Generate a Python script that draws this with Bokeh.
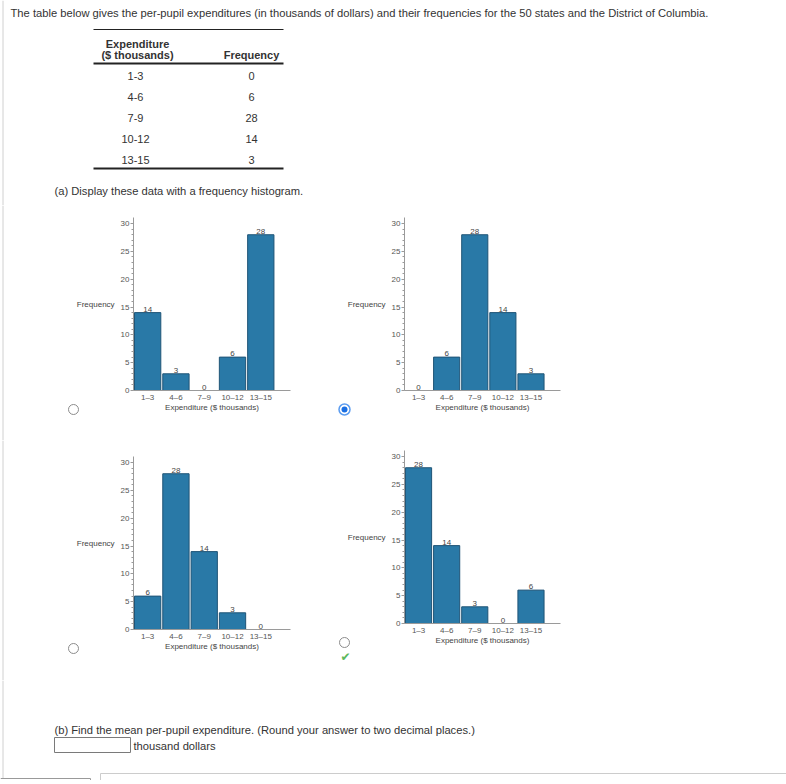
from bokeh.plotting import figure
from bokeh.models import Range1d, FixedTicker, ColumnDataSource
from bokeh.layouts import column, row
from bokeh.embed import file_html
from bokeh.resources import INLINE
from bokeh.core.properties import value

# ---------------- data ----------------
intro = ("The table below gives the per-pupil expenditures (in thousands of dollars) "
         "and their frequencies for the 50 states and the District of Columbia.")
part_a = "(a) Display these data with a frequency histogram."
part_b = "(b) Find the mean per-pupil expenditure. (Round your answer to two decimal places.)"
unit_text = "thousand dollars"

head_left = ["Expenditure", "($ thousands)"]
head_right = "Frequency"
categories = ["1-3", "4-6", "7-9", "10-12", "13-15"]
frequencies = [0, 6, 28, 14, 3]

hist_labels = ["1\u20133", "4\u20136", "7\u20139", "10\u201312", "13\u201315"]
choice_a = [14, 3, 0, 6, 28]
choice_b = [0, 6, 28, 14, 3]
choice_c = [6, 28, 14, 3, 0]
choice_d = [28, 14, 3, 0, 6]
y_ticks = [0, 5, 10, 15, 20, 25, 30]
y_label = "Frequency"
x_label = "Expenditure ($ thousands)"

# ---------------- style ----------------
FONT = "Liberation Sans"
TXT = "#333333"
BAR = "#2979a7"
EDGE = "#1f5476"
AX = "#9a9a9a"
EDGE_LINE = "#d0d0d0"
XMAX = 5.55
YMAX = 31.1
PAGE_W = 786


def blank(width, height, x0, y0):
    p = figure(width=width, height=height, output_backend="svg", toolbar_location=None,
               x_range=Range1d(x0, x0 + width), y_range=Range1d(y0 + height, y0),
               min_border=0)
    p.axis.visible = False
    p.grid.visible = False
    p.outline_line_color = None
    return p


# ---------------- header ----------------
hdr = blank(PAGE_W, 205, 0, 0)
hdr.segment(x0=[2.5], y0=[0], x1=[2.5], y1=[205], line_color=EDGE_LINE, line_width=1)
hdr.text(x=[10], y=[12], text=[intro], text_font=value(FONT), text_font_size="11.2px",
         text_color=TXT, text_align="left", text_baseline="middle")
hdr.segment(x0=[93], y0=[29], x1=[283], y1=[29], line_color="#222222", line_width=1)
hdr.segment(x0=[93, 93], y0=[63, 168], x1=[283, 283], y1=[63, 168], line_color="#222222", line_width=2)
hdr.text(x=[137, 137], y=[43, 54], text=head_left, text_font=value(FONT), text_font_size="11px",
         text_font_style="bold", text_color=TXT, text_align="center", text_baseline="middle")
hdr.text(x=[251], y=[54], text=[head_right], text_font=value(FONT), text_font_size="11px",
         text_font_style="bold", text_color=TXT, text_align="center", text_baseline="middle")
row_y = [75 + 21 * i for i in range(len(categories))]
hdr.text(x=[135] * len(categories), y=row_y, text=categories, text_font=value(FONT),
         text_font_size="11px", text_color=TXT, text_align="center", text_baseline="middle")
hdr.text(x=[251] * len(frequencies), y=row_y, text=[str(f) for f in frequencies],
         text_font=value(FONT), text_font_size="11px", text_color=TXT,
         text_align="center", text_baseline="middle")
hdr.text(x=[54], y=[190], text=[part_a], text_font=value(FONT), text_font_size="11.2px",
         text_color=TXT, text_align="left", text_baseline="middle")


# ---------------- histograms ----------------
def make_hist(vals, width, height, left, fl, fw, ftop, fbot, radio_sx,
              selected=False, check=False):
    """left: figure's page x; fl: pixel x of the value axis inside the figure;
    fw: pixel width of XMAX; ftop/fbot: pixel y of YMAX / 0 inside the figure."""
    ppx = fw / XMAX
    ppy = (fbot - ftop) / YMAX
    x_lo, x_hi = -fl / ppx, (width - fl) / ppx
    y_lo, y_hi = -(height - fbot) / ppy, fbot / ppy
    p = figure(width=width, height=height, output_backend="svg", toolbar_location=None,
               x_range=Range1d(x_lo, x_hi), y_range=Range1d(y_lo, y_hi),
               min_border=0)
    p.grid.visible = False
    p.outline_line_color = None

    if left == 0:
        p.line(x=[x_lo + 2.5 / ppx, x_lo + 2.5 / ppx], y=[y_lo, y_hi],
               line_color=EDGE_LINE, line_width=1)

    src = ColumnDataSource(dict(x=[i + 0.5 for i in range(len(vals))], top=vals,
                                lab=[str(v) for v in vals]))
    p.vbar(x="x", top="top", bottom=0, width=0.93, source=src,
           fill_color=BAR, line_color=EDGE, line_width=1)
    p.text(x="x", y="top", text="lab", source=src, text_align="center",
           text_baseline="bottom", y_offset=-1, text_font=value(FONT),
           text_font_size="8px", text_color="#444444")

    ya = p.yaxis[0]
    ya.fixed_location = 0
    ya.bounds = (0, YMAX)
    ya.ticker = FixedTicker(ticks=y_ticks, minor_ticks=list(range(0, 31)))
    ya.axis_line_color = AX
    ya.major_tick_line_color = AX
    ya.minor_tick_line_color = AX
    ya.major_tick_out = 3
    ya.major_tick_in = 0
    ya.minor_tick_out = 2
    ya.minor_tick_in = 0
    ya.major_label_text_font = FONT
    ya.major_label_text_font_size = "8px"
    ya.major_label_text_color = "#555555"
    ya.major_label_standoff = 1
    ya.axis_label = y_label
    ya.axis_label_orientation = "horizontal"
    ya.axis_label_text_font = FONT
    ya.axis_label_text_font_style = "normal"
    ya.axis_label_text_font_size = "8px"
    ya.axis_label_text_color = "#444444"
    ya.axis_label_standoff = 3

    xa = p.xaxis[0]
    xa.fixed_location = 0
    xa.bounds = (0, XMAX)
    xa.ticker = FixedTicker(ticks=[i + 0.5 for i in range(len(hist_labels))], minor_ticks=[])
    xa.major_label_overrides = {i + 0.5: lab for i, lab in enumerate(hist_labels)}
    xa.axis_line_color = AX
    xa.major_tick_out = 0
    xa.major_tick_in = 0
    xa.minor_tick_out = 0
    xa.minor_tick_in = 0
    xa.major_label_text_font = FONT
    xa.major_label_text_font_size = "8px"
    xa.major_label_text_color = "#555555"
    xa.major_label_standoff = 2
    xa.axis_label = x_label
    xa.axis_label_text_font = FONT
    xa.axis_label_text_font_style = "normal"
    xa.axis_label_text_font_size = "8px"
    xa.axis_label_text_color = "#444444"
    xa.axis_label_standoff = -2

    # radio button (page position converted to this figure's coordinates)
    rx = (radio_sx - left - fl) / ppx
    ry = -19 / ppy
    if selected:
        p.scatter(x=[rx], y=[ry], size=11, marker="circle", fill_color="white",
                  line_color="#5b9cf0", line_width=1.5)
        p.scatter(x=[rx], y=[ry], size=6, marker="circle", fill_color="#1a6fe3",
                  line_color=None)
    else:
        p.scatter(x=[rx], y=[ry], size=10, marker="circle", fill_color="white",
                  line_color="#8c8c8c", line_width=1)
    if check:
        p.text(x=[rx + 1 / ppx], y=[ry - 14 / ppy], text=["\u2714"], text_color="#5cb85c",
               text_font=value("DejaVu Sans"), text_font_size="12px",
               text_align="center", text_baseline="middle")
    return p


figA = make_hist(choice_a, 330, 235, 0, 133, 157, 12, 185, 73)
figB = make_hist(choice_b, 456, 235, 330, 74, 156, 12, 185, 344, selected=True)
figC = make_hist(choice_c, 330, 240, 0, 133, 157, 16, 189, 73)
figD = make_hist(choice_d, 456, 240, 330, 74, 156, 10, 183, 344, check=True)

# ---------------- footer ----------------
ftr = blank(PAGE_W, 100, 0, 680)
ftr.segment(x0=[2.5], y0=[680], x1=[2.5], y1=[778], line_color=EDGE_LINE, line_width=1)
ftr.text(x=[54], y=[729], text=[part_b], text_font=value(FONT), text_font_size="11.2px",
         text_color=TXT, text_align="left", text_baseline="middle")
ftr.quad(left=[54], right=[130], top=[737], bottom=[752], fill_color="white",
         line_color="#7a7a7a", line_width=1)
ftr.text(x=[133], y=[745], text=[unit_text], text_font=value(FONT), text_font_size="11.2px",
         text_color=TXT, text_align="left", text_baseline="middle")
ftr.segment(x0=[100, 100], y0=[773, 773], x1=[786, 100], y1=[773, 780],
            line_color="#cccccc", line_width=1)
ftr.segment(x0=[0, 90], y0=[778, 778], x1=[90, 90], y1=[778, 780],
            line_color="#999999", line_width=1)

layout = column(hdr, row(figA, figB), row(figC, figD), ftr)
open("out.html", "w").write(file_html(layout, INLINE))
